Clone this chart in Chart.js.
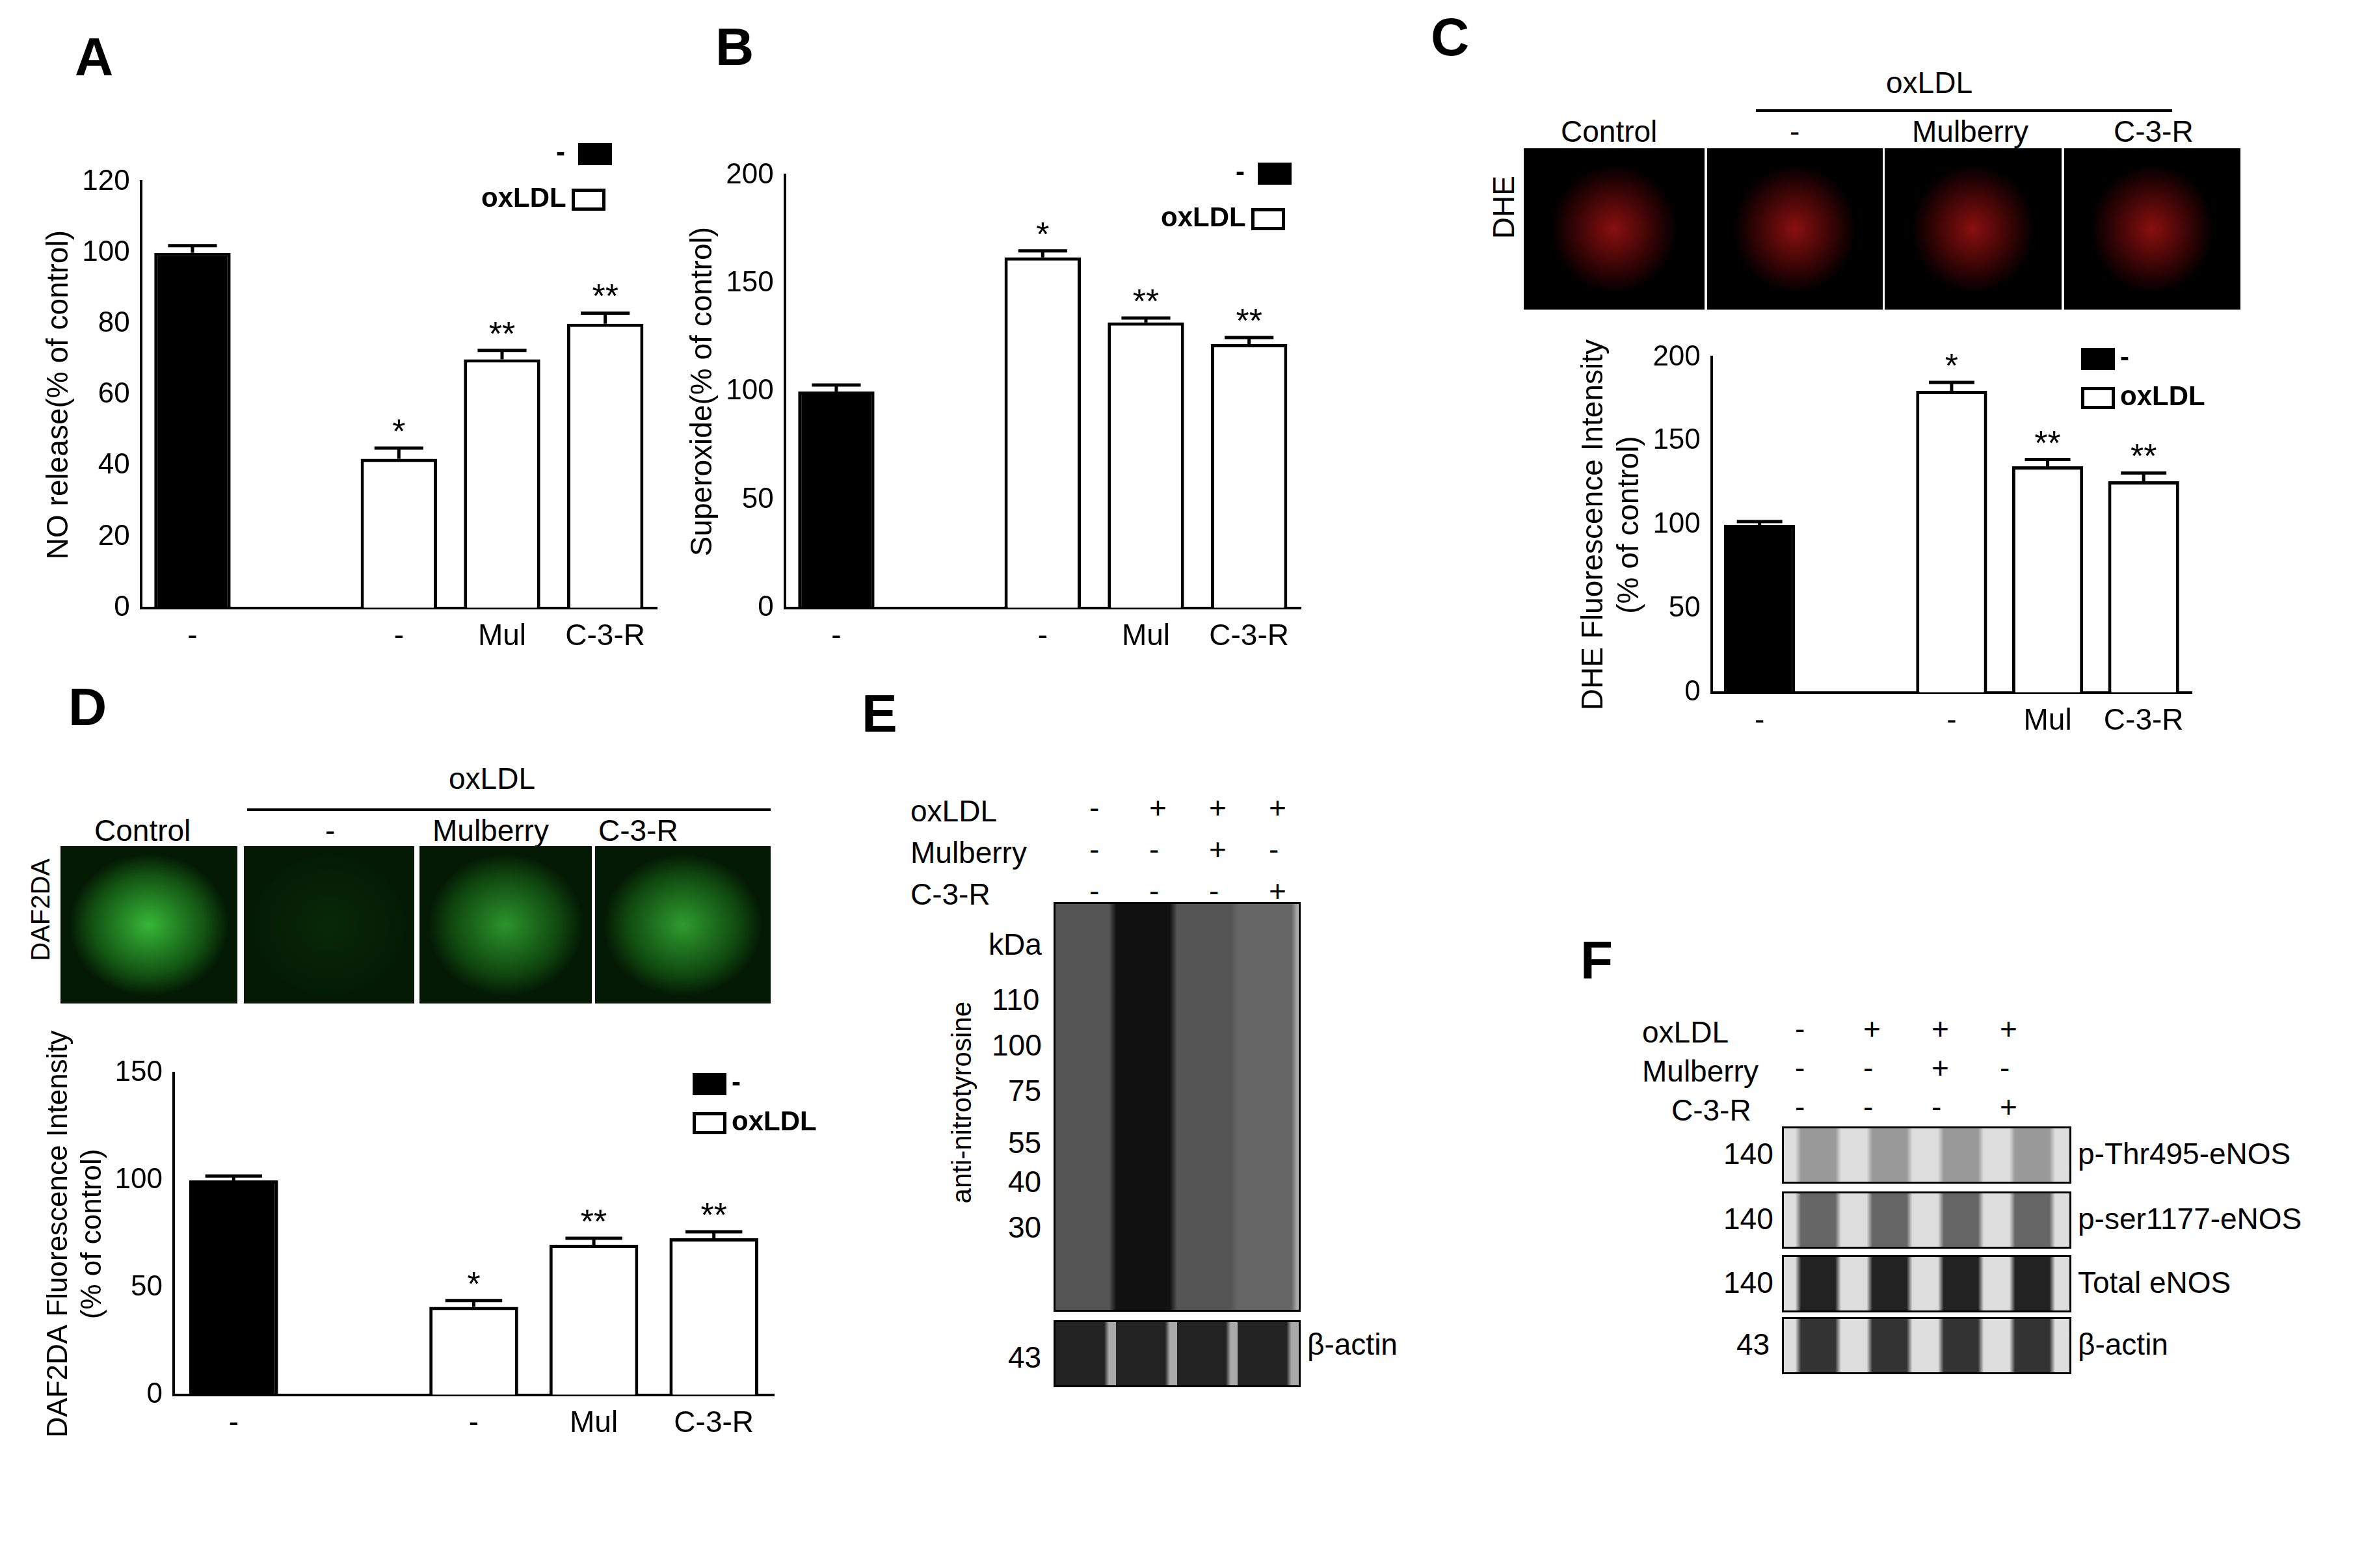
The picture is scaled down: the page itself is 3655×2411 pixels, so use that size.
<!DOCTYPE html>
<html>
<head>
<meta charset="utf-8">
<script src="https://cdn.jsdelivr.net/npm/chart.js"></script>
<style>
  body { margin: 0; background: #fff; font-family: "Liberation Sans", Arial, sans-serif; }
  #page { position: relative; width: 3655px; height: 2411px; overflow: hidden; }
  .box { position: absolute; }
  .letter { position: absolute; font-weight: bold; font-size: 82px; }
  .t { position: absolute; font-size: 46px; white-space: nowrap; }
  .v { writing-mode: vertical-rl; transform: rotate(180deg); }
  .leg { position: absolute; font-size: 42px; font-weight: bold; white-space: nowrap; }
  .sw { display: inline-block; width: 52px; height: 34px; border: 5px solid #000; vertical-align: middle; margin-left: 8px; box-sizing: border-box; }
  .line { position: absolute; height: 4px; background: #000; }
  .cell { position: absolute; background: #000; }
  .blot { position: absolute; background: #cfcfcf; border: 3px solid #000; box-sizing: border-box; }
</style>
</head>
<body>
<div id="page"></div>
<script>
// shared categories: control, spacer, oxLDL alone, oxLDL + mulberry, oxLDL + C-3-R
const groupLabels = ['-', '', '-', 'Mul', 'C-3-R'];
const barColors = ['#000', '#fff', '#fff', '#fff', '#fff'];

// A: NO release (% of control)
const noRelease = [100, null, 42, 70, 80];
const noErr = [2, null, 3, 2.5, 3];
const noStars = ['', '', '*', '**', '**'];

// B: superoxide (% of control)
const superoxide = [100, null, 162, 132, 122];
const supErr = [3, null, 3, 2, 3];
const supStars = ['', '', '*', '**', '**'];

// C: DHE fluorescence (% of control)
const dhe = [100, null, 180, 135, 126];
const dheErr = [2, null, 5, 4, 5];
const dheStars = ['', '', '*', '**', '**'];

// D: DAF2DA fluorescence (% of control)
const daf = [100, null, 41, 70, 73];
const dafErr = [2, null, 3, 3, 3];
const dafStars = ['', '', '*', '**', '**'];

const page = document.getElementById('page');
function add(cls, html, css) {
  const d = document.createElement('div');
  d.className = cls;
  d.innerHTML = html;
  Object.assign(d.style, css);
  page.appendChild(d);
  return d;
}

// error bars and asterisks drawn from the scales
const errorPlugin = {
  id: 'errs',
  afterDatasetsDraw(chart) {
    const ctx = chart.ctx;
    const ds = chart.data.datasets[0];
    const meta = chart.getDatasetMeta(0);
    const y = chart.scales.y;
    ctx.save();
    ctx.strokeStyle = '#000';
    ctx.lineWidth = 5;
    ds.data.forEach((v, i) => {
      if (v === null) return;
      const bar = meta.data[i];
      const top = y.getPixelForValue(v + ds.errs[i]);
      const w = bar.width * 0.32;
      ctx.beginPath();
      ctx.moveTo(bar.x, bar.y);
      ctx.lineTo(bar.x, top);
      ctx.moveTo(bar.x - w, top);
      ctx.lineTo(bar.x + w, top);
      ctx.stroke();
      if (ds.stars[i]) {
        ctx.fillStyle = '#000';
        ctx.font = '52px "Liberation Sans"';
        ctx.textAlign = 'center';
        ctx.fillText(ds.stars[i], bar.x, top - 8);
      }
    });
    ctx.restore();
  }
};

function makeBar(css, vals, errs, stars, max, step, ytitle, pad, titleSize) {
  const box = add('box', '', css);
  const cv = document.createElement('canvas');
  box.appendChild(cv);
  new Chart(cv, {
    type: 'bar',
    data: {
      labels: groupLabels,
      datasets: [{
        data: vals, errs: errs, stars: stars,
        backgroundColor: barColors, borderColor: '#000', borderWidth: 5,
        barPercentage: 0.74, categoryPercentage: 1
      }]
    },
    options: {
      responsive: true, maintainAspectRatio: false, animation: false,
      layout: { padding: pad || { top: 10, right: 10 } },
      plugins: { legend: { display: false }, tooltip: { enabled: false } },
      scales: {
        x: {
          grid: { display: false, drawTicks: true, tickLength: 14, tickColor: '#000', tickWidth: 4 },
          border: { color: '#000', width: 4 },
          ticks: { color: '#000', font: { size: 46, family: 'Liberation Sans' } }
        },
        y: {
          min: 0, max: max,
          grid: { display: false, drawTicks: true, tickLength: 14, tickColor: '#000', tickWidth: 4 },
          border: { color: '#000', width: 4 },
          ticks: { stepSize: step, color: '#000', font: { size: 44, family: 'Liberation Sans' } },
          title: { display: true, text: ytitle, color: '#000', font: { size: titleSize || 46, family: 'Liberation Sans' } }
        }
      }
    },
    plugins: [errorPlugin]
  });
}

function legend(x, y) {
  add('leg', '- <span class="sw" style="background:#000"></span>', { left: x + 115 + 'px', top: y + 'px' });
  add('leg', 'oxLDL<span class="sw"></span>', { left: x + 'px', top: y + 70 + 'px' });
}

// Panel A
add('letter', 'A', { left: '115px', top: '40px' });
makeBar({ left: '60px', top: '250px', width: '960px', height: '760px' }, noRelease, noErr, noStars, 120, 20, 'NO release(% of control)');
legend(740, 210);

// Panel B
add('letter', 'B', { left: '1100px', top: '25px' });
makeBar({ left: '1050px', top: '240px', width: '960px', height: '770px' }, superoxide, supErr, supStars, 200, 50, 'Superoxide(% of control)');
legend(1785, 240);

// Panel C
add('letter', 'C', { left: '2200px', top: '10px' });
makeBar({ left: '2420px', top: '520px', width: '960px', height: '620px' }, dhe, dheErr, dheStars, 200, 50, ['DHE Fluorescence Intensity', '(% of control)']);
add('leg', '<span class="sw" style="background:#000;margin:0 8px 0 0"></span>-', { left: '3200px', top: '525px' });
add('leg', '<span class="sw" style="margin:0 8px 0 0"></span>oxLDL', { left: '3200px', top: '585px' });
add('t', 'oxLDL', { left: '2900px', top: '100px' });
add('line', '', { left: '2700px', top: '168px', width: '640px' });
add('t', 'Control', { left: '2400px', top: '175px' });
add('t', '-', { left: '2752px', top: '175px' });
add('t', 'Mulberry', { left: '2940px', top: '175px' });
add('t', 'C-3-R', { left: '3250px', top: '175px' });
add('t v', 'DHE', { left: '2285px', top: '270px' });
[[2343, 278], [2625, 270], [2898, 272], [3174, 271]].forEach(([x, w]) => {
  add('cell', '', { left: x + 'px', top: '228px', width: w + 'px', height: '248px',
    background: 'radial-gradient(ellipse 35% 40% at 50% 50%, #8a0f0f, #2a0303 70%, #000 100%)' });
});

// Panel D
add('letter', 'D', { left: '105px', top: '1040px' });
makeBar({ left: '20px', top: '1540px', width: '1180px', height: '880px' }, daf, dafErr, dafStars, 150, 50,
  ['DAF2DA Fluorescence Intensity', '(% of control)'], { top: 110, right: 10, left: 40, bottom: 200 }, 44);
add('leg', '<span class="sw" style="background:#000;margin:0 8px 0 0"></span>-', { left: '1065px', top: '1640px' });
add('leg', '<span class="sw" style="margin:0 8px 0 0"></span>oxLDL', { left: '1065px', top: '1700px' });
add('t', 'oxLDL', { left: '690px', top: '1170px' });
add('line', '', { left: '380px', top: '1243px', width: '805px' });
add('t', 'Control', { left: '145px', top: '1250px' });
add('t', '-', { left: '500px', top: '1250px' });
add('t', 'Mulberry', { left: '665px', top: '1250px' });
add('t', 'C-3-R', { left: '920px', top: '1250px' });
add('t v', 'DAF2DA', { left: '40px', top: '1320px', fontSize: '40px' });
[[93, 272, 0.9], [375, 262, 0.08], [645, 265, 0.7], [915, 270, 0.75]].forEach(([x, w, a]) => {
  add('cell', '', { left: x + 'px', top: '1301px', width: w + 'px', height: '242px',
    background: `radial-gradient(ellipse 45% 45% at 50% 50%, rgba(60,200,60,${a}), rgba(20,90,20,${a}) 70%, rgba(0,0,0,0) 100%), #041a04` });
});

// Panel E (western blot)
add('letter', 'E', { left: '1325px', top: '1050px' });
const eRows = [['oxLDL', '-', '+', '+', '+'], ['Mulberry', '-', '-', '+', '-'], ['C-3-R', '-', '-', '-', '+']];
eRows.forEach((r, i) => {
  add('t', r[0], { left: '1400px', top: 1220 + i * 64 + 'px' });
  r.slice(1).forEach((s, j) => add('t', s, { left: 1675 + j * 92 + 'px', top: 1215 + i * 64 + 'px' }));
});
add('blot', '', { left: '1620px', top: '1387px', width: '380px', height: '630px',
  background: 'linear-gradient(90deg, #555 0 22%, #111 25% 47%, #555 50% 72%, #666 75% 97%, #bbb 100%)' });
add('blot', '', { left: '1620px', top: '2030px', width: '380px', height: '103px',
  background: 'repeating-linear-gradient(90deg, #222 0 20%, #aaa 22% 25%)' });
add('t', 'kDa', { left: '1520px', top: '1425px' });
[['110', 1510], ['100', 1580], ['75', 1650], ['55', 1730], ['40', 1790], ['30', 1860], ['43', 2060]].forEach(([k, y]) =>
  add('t', k, { left: k.length === 3 ? '1525px' : '1550px', top: y + 'px' }));
add('t v', 'anti-nitrotyrosine', { left: '1455px', top: '1540px', fontSize: '42px' });
add('t', 'β-actin', { left: '2010px', top: '2040px' });

// Panel F (western blot)
add('letter', 'F', { left: '2430px', top: '1430px' });
const fRows = [['oxLDL', '-', '+', '+', '+'], ['Mulberry', '-', '-', '+', '-'], ['C-3-R', '-', '-', '-', '+']];
fRows.forEach((r, i) => {
  add('t', r[0], { left: ['2525px', '2525px', '2570px'][i], top: 1560 + i * 60 + 'px' });
  r.slice(1).forEach((s, j) => add('t', s, { left: 2760 + j * 105 + 'px', top: 1555 + i * 60 + 'px' }));
});
[['140', 'p-Thr495-eNOS', 1732, '#999'], ['140', 'p-ser1177-eNOS', 1832, '#666'], ['140', 'Total eNOS', 1930, '#222'], ['43', 'β-actin', 2025, '#333']].forEach(([k, n, y, c]) => {
  add('blot', '', { left: '2740px', top: y + 'px', width: '445px', height: '88px',
    background: `repeating-linear-gradient(90deg, #ddd 0 4%, ${c} 6% 18%, #ddd 20% 25%)` });
  add('t', k, { left: k.length === 3 ? '2650px' : '2670px', top: y + 15 + 'px' });
  add('t', n, { left: '3195px', top: y + 15 + 'px' });
});
</script>
</body>
</html>
